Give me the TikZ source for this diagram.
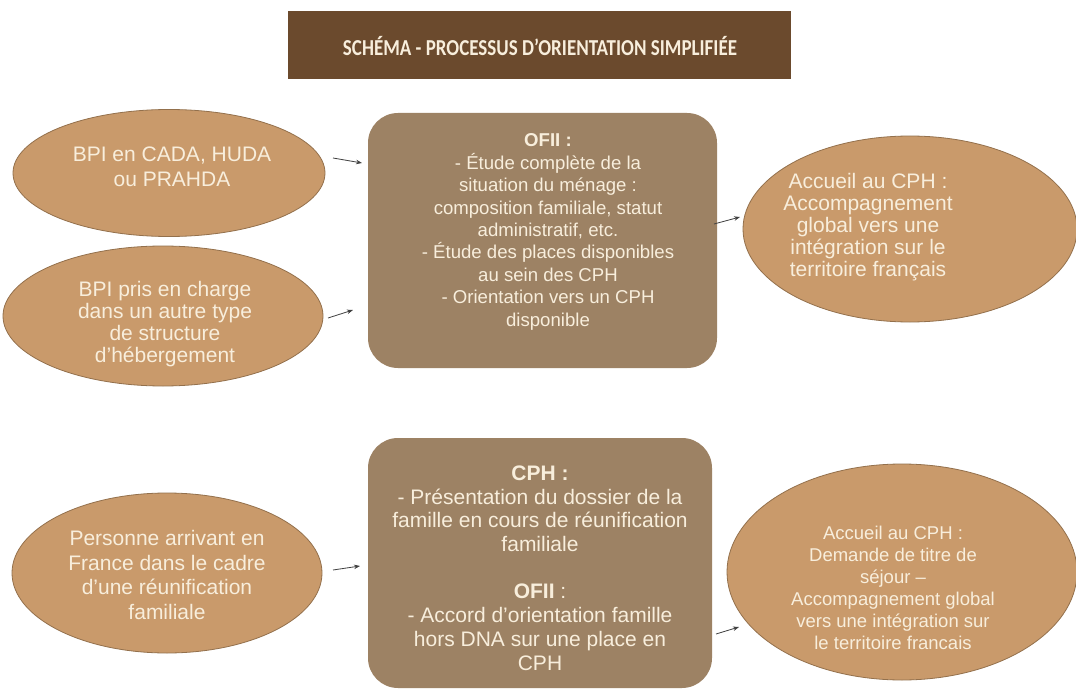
\documentclass[tikz,border=0pt]{standalone}
\usepackage{fontspec}
\setmainfont{Liberation Sans}
\newfontfamily\titlefont{Carlito}
\usetikzlibrary{shapes.geometric,arrows.meta}
\definecolor{titlebg}{HTML}{6B4A2D}
\definecolor{ellfill}{HTML}{C99A6B}
\definecolor{elldraw}{HTML}{93704C}
\definecolor{boxfill}{HTML}{9D8264}
\definecolor{cream}{HTML}{F8EEDC}
\definecolor{arrowcol}{HTML}{404040}
\tikzset{
  ell/.style={ellipse, fill=ellfill, draw=elldraw, line width=0.8pt, inner sep=0pt},
  roundbox/.style={rectangle, rounded corners=30pt, fill=boxfill, inner sep=0pt},
  txt/.style={text=cream, align=center, inner sep=0pt},
  arr/.style={draw=arrowcol, line width=0.8pt, -{Stealth[length=6pt,width=4.5pt]}},
}
\begin{document}
\begin{tikzpicture}[x=1pt,y=-1pt]
\useasboundingbox[fill=white] (0,0) rectangle (1076,690);

% title
\node[rectangle, fill=titlebg, minimum width=503pt, minimum height=68pt, inner sep=0pt] (title) at (539.5,45) {};
\node[txt, font=\titlefont\bfseries\fontsize{19}{23}\selectfont] (titletext) at (540,46) {\scalebox{1}[1.2]{SCHÉMA - PROCESSUS D’ORIENTATION SIMPLIFIÉE}};

% top row
\node[ell, minimum width=312pt, minimum height=127pt] (e1) at (169,173) {};
\node[txt, font=\fontsize{21}{25}\selectfont] (e1t) at (172,167) {BPI en CADA, HUDA\\ou PRAHDA};

\node[ell, minimum width=320pt, minimum height=140pt] (e2) at (163,316) {};
\node[txt, font=\fontsize{21}{22}\selectfont] (e2t) at (165,324) {BPI pris en charge\\dans un autre type\\de structure\\d’hébergement};

\node[roundbox, minimum width=349pt, minimum height=255pt] (b1) at (542.5,240.5) {};
\node[txt, font=\fontsize{18.6}{22.4}\selectfont] (b1t) at (548,232) {\textbf{OFII :}\\- Étude complète de la\\situation du ménage :\\composition familiale, statut\\administratif, etc.\\- Étude des places disponibles\\au sein des CPH\\- Orientation vers un CPH\\disponible};

\node[ell, minimum width=334pt, minimum height=186pt] (e3) at (910,229) {};
\node[txt, font=\fontsize{21}{22}\selectfont] (e3t) at (868,227) {Accueil au CPH :\\Accompagnement\\global vers une\\intégration sur le\\territoire français};

% bottom row
\node[ell, minimum width=310pt, minimum height=160pt] (e4) at (167,573) {};
\node[txt, font=\fontsize{21}{24.7}\selectfont] (e4t) at (167,575) {Personne arrivant en\\France dans le cadre\\d’une réunification\\familiale};

\node[roundbox, minimum width=344pt, minimum height=250pt] (b2) at (540,563) {};
\node[txt, font=\fontsize{21}{23.7}\selectfont] (b2t) at (540,568) {\textbf{CPH :}\\- Présentation du dossier de la\\famille en cours de réunification\\familiale\\[23.7pt]\textbf{OFII} :\\- Accord d’orientation famille\\hors DNA sur une place en\\CPH};

\node[ell, minimum width=350pt, minimum height=216pt] (e5) at (902,572) {};
\node[txt, font=\fontsize{18.5}{22}\selectfont] (e5t) at (893,588) {Accueil au CPH :\\Demande de titre de\\séjour –\\Accompagnement global\\vers une intégration sur\\le territoire francais};

% arrows
\coordinate (a1s) at (333,158); \coordinate (a1e) at (362,163);
\coordinate (a2s) at (328,318); \coordinate (a2e) at (353,310);
\coordinate (a3s) at (714,224); \coordinate (a3e) at (740,217);
\coordinate (a4s) at (333,570); \coordinate (a4e) at (360,566);
\coordinate (a5s) at (716,634); \coordinate (a5e) at (739,627);
\draw[arr] (a1s) -- (a1e);
\draw[arr] (a2s) -- (a2e);
\draw[arr] (a3s) -- (a3e);
\draw[arr] (a4s) -- (a4e);
\draw[arr] (a5s) -- (a5e);
\end{tikzpicture}
\end{document}
